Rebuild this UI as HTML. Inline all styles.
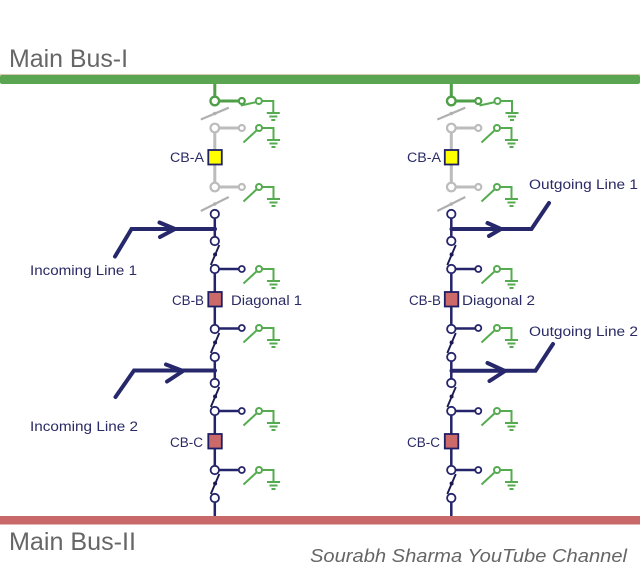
<!DOCTYPE html>
<html>
<head>
<meta charset="utf-8">
<style>
html,body{margin:0;padding:0;background:#fff;width:640px;height:582px;overflow:hidden}
svg{display:block}
text{font-family:"Liberation Sans",sans-serif;fill:#2a2a66;font-size:13.5px}
.big{fill:#666;font-size:25px}
</style>
</head>
<body>
<svg width="640" height="582" viewBox="0 0 640 582" xmlns="http://www.w3.org/2000/svg">
<defs>
<g id="gnd" fill="none" stroke="#55ab4f" stroke-width="2">
  <path d="M8 12H21M10.500 15.500H18.500M12.500 19H16.500"/>
</g>
<g id="earth" fill="none" stroke="#55ab4f" stroke-width="2">
  <path d="M-15.500 14.500L-2 2M2.800 0H14.500V11.500"/>
  <circle cx="0" cy="0" r="3" fill="#fff"/>
  <use href="#gnd"/>
</g>
<g id="earthTop" fill="none" stroke="#55ab4f" stroke-width="2">
  <path d="M-18 4.500L-2 1M2.800 0H14.500V11.500"/>
  <circle cx="0" cy="0" r="3" fill="#fff"/>
  <use href="#gnd"/>
</g>
<g id="navysw" fill="none" stroke="#24246a">
  <path d="M4.500 4L-4 24" stroke="#1a1a50" stroke-width="1.900"/>
  <circle cx="0.300" cy="13.500" r="2" fill="#1a1a50" stroke="none"/>
  <circle cx="0" cy="0" r="4.200" fill="#fff" stroke-width="1.800"/>
  <circle cx="0" cy="28" r="4.200" fill="#fff" stroke-width="1.800"/>
</g>
<g id="col">
  <!-- green section -->
  <path d="M0 84V101H27" fill="none" stroke="#4f9f48" stroke-width="3"/>
  <circle cx="0" cy="101" r="4.300" fill="#fff" stroke="#4f9f48" stroke-width="2.400"/>
  <circle cx="27" cy="101" r="3" fill="#fff" stroke="#4f9f48" stroke-width="2.200"/>
  <!-- gray section -->
  <path d="M-14 119.500L14 107.700M-14 211L14 197" stroke="#b0b0b0" stroke-width="2.200" fill="none"/>
  <circle cx="0" cy="113.500" r="1.800" fill="#b0b0b0"/>
  <circle cx="0" cy="204" r="1.800" fill="#b0b0b0"/>
  <path d="M0 128V187M0 128H27M0 187H27" fill="none" stroke="#bcbcbc" stroke-width="3"/>
  <circle cx="0" cy="128" r="4.300" fill="#fff" stroke="#bcbcbc" stroke-width="2.200"/>
  <circle cx="27" cy="128" r="3" fill="#fff" stroke="#bcbcbc" stroke-width="2.200"/>
  <circle cx="0" cy="187" r="4.300" fill="#fff" stroke="#bcbcbc" stroke-width="2.200"/>
  <circle cx="27" cy="187" r="3" fill="#fff" stroke="#bcbcbc" stroke-width="2.200"/>
  <rect x="-6.500" y="150" width="13.500" height="14.500" fill="#ffff00" stroke="#1e1e66" stroke-width="1.800"/>
  <!-- navy section -->
  <path d="M0 214V241M0 269V329M0 357V383M0 411V470M0 498V516" fill="none" stroke="#24246a" stroke-width="2.500"/>
  <path d="M0 269H27M0 328.500H27M0 411H27M0 470H27" fill="none" stroke="#24246a" stroke-width="2.500"/>
  <circle cx="0" cy="214" r="4.200" fill="#fff" stroke="#24246a" stroke-width="1.800"/>
  <use href="#navysw" x="0" y="241"/>
  <use href="#navysw" x="0" y="329"/>
  <use href="#navysw" x="0" y="383"/>
  <use href="#navysw" x="0" y="470"/>
  <g fill="#fff" stroke="#24246a" stroke-width="1.800">
    <circle cx="27" cy="269" r="3"/><circle cx="27" cy="328" r="3"/>
    <circle cx="27" cy="411" r="3"/><circle cx="27" cy="470" r="3"/>
  </g>
  <g fill="#cc6a6a" stroke="#1e1e66" stroke-width="1.800">
    <rect x="-6.500" y="292" width="13.500" height="14.500"/>
    <rect x="-6.500" y="434" width="13.500" height="14.500"/>
  </g>
</g>
</defs>

<!-- buses -->
<rect x="0" y="74" width="640" height="1.500" fill="#d8c9b0"/>
<rect x="0" y="75" width="640" height="9" rx="2" fill="#5aa552"/>
<rect x="0" y="516" width="640" height="8.500" fill="#c96868"/>

<use href="#col" x="214.800" y="0"/>
<use href="#col" x="451.300" y="0"/>

<!-- earth switches left -->
<use href="#earthTop" x="258.800" y="101"/>
<use href="#earth" x="259" y="128"/>
<use href="#earth" x="259" y="187"/>
<use href="#earth" x="259" y="269"/>
<use href="#earth" x="259" y="328"/>
<use href="#earth" x="259" y="411"/>
<use href="#earth" x="259" y="470"/>
<!-- earth switches right -->
<use href="#earthTop" x="497.500" y="101"/>
<use href="#earth" x="497" y="128"/>
<use href="#earth" x="497" y="187"/>
<use href="#earth" x="497" y="269"/>
<use href="#earth" x="497" y="328"/>
<use href="#earth" x="497" y="411"/>
<use href="#earth" x="497" y="470"/>

<!-- feeders -->
<g fill="none" stroke="#27276b" stroke-linecap="round" stroke-linejoin="miter" stroke-width="4">
  <path d="M115 256.500L131.500 229H215"/>
  <path d="M159.500 222.500L175 229L160 237"/>
  <path d="M115.500 397L134 370.500H215"/>
  <path d="M166 364.500L183 371L167 381.500"/>
  <path d="M451.500 229H531.500L549 203"/>
  <path d="M487.500 223L501 229L489 236"/>
  <path d="M451.500 370.700H535.500L553 344"/>
  <path d="M487.500 363L505 371L489.500 381"/>
</g>

<!-- labels -->
<text class="big" x="9" y="67" textLength="119" lengthAdjust="spacingAndGlyphs">Main Bus-I</text>
<text class="big" x="9" y="550" textLength="127" lengthAdjust="spacingAndGlyphs">Main Bus-II</text>
<text x="310" y="562" textLength="317" lengthAdjust="spacingAndGlyphs" style="font-size:18px;font-style:italic;fill:#666">Sourabh Sharma YouTube Channel</text>

<text x="170" y="162" textLength="34" lengthAdjust="spacingAndGlyphs">CB-A</text>
<text x="407" y="162" textLength="34" lengthAdjust="spacingAndGlyphs">CB-A</text>
<text x="172" y="305" textLength="32" lengthAdjust="spacingAndGlyphs">CB-B</text>
<text x="409" y="305" textLength="32" lengthAdjust="spacingAndGlyphs">CB-B</text>
<text x="170" y="447" textLength="33" lengthAdjust="spacingAndGlyphs">CB-C</text>
<text x="407" y="447" textLength="33" lengthAdjust="spacingAndGlyphs">CB-C</text>
<text x="231" y="305" textLength="71" lengthAdjust="spacingAndGlyphs">Diagonal 1</text>
<text x="462" y="305" textLength="73" lengthAdjust="spacingAndGlyphs">Diagonal 2</text>
<text x="30" y="275" textLength="107" lengthAdjust="spacingAndGlyphs">Incoming Line 1</text>
<text x="30" y="431" textLength="108" lengthAdjust="spacingAndGlyphs">Incoming Line 2</text>
<text x="529" y="189" textLength="109" lengthAdjust="spacingAndGlyphs">Outgoing Line 1</text>
<text x="529" y="336" textLength="109" lengthAdjust="spacingAndGlyphs">Outgoing Line 2</text>
</svg>
</body>
</html>
